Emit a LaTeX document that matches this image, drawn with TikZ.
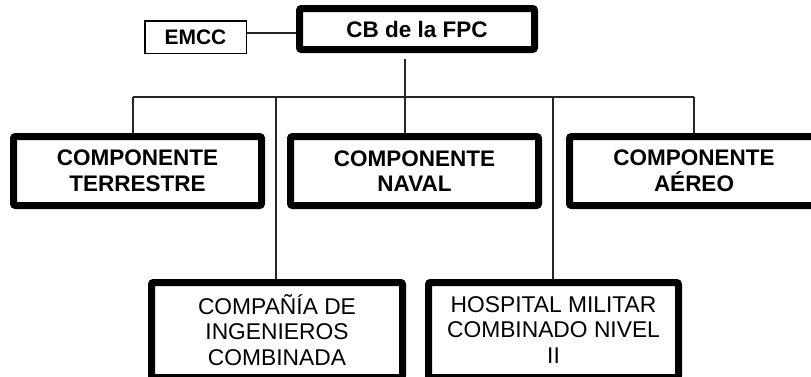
\documentclass[tikz,border=0pt]{standalone}
\usepackage{fontspec}
\setmainfont{Liberation Sans}
\begin{document}
\begin{tikzpicture}[x=1pt,y=-1pt,
  thickbox/.style={draw, line width=7pt, rounded corners=2pt, align=center, inner sep=0pt, fill=white},
  thinbox/.style={draw, line width=1.5pt, align=center, inner sep=0pt, fill=white},
  conn/.style={line width=1.4pt, draw=black!85},
  bigtxt/.style={font=\fontsize{22.5}{25.7}\selectfont\bfseries},
  regtxt/.style={font=\fontsize{22.8}{25.5}\selectfont}]
\useasboundingbox (0,0) rectangle (811,376);
\clip (0,0) rectangle (811,376);

\node[thinbox, minimum width=101.5pt, minimum height=32.5pt, font=\fontsize{21}{24}\selectfont\bfseries] (emcc) at (195.5,37) {EMCC};
\node[thickbox, bigtxt, minimum width=235pt, minimum height=41pt] (cb) at (417,29) {CB de la FPC};

\node[thickbox, bigtxt, minimum width=248pt, minimum height=69pt] (ter) at (137.5,171) {COMPONENTE\\TERRESTRE};
\node[thickbox, bigtxt, minimum width=248pt, minimum height=69pt] (nav) at (414.5,171) {COMPONENTE\\NAVAL};
\node[thickbox, bigtxt, minimum width=249pt, minimum height=69pt] (aer) at (694,171) {COMPONENTE\\AÉREO};

\node[thickbox, regtxt, minimum width=251pt, minimum height=95pt] (cia) at (277,330) {COMPAÑÍA DE\\INGENIEROS\\COMBINADA};
\node[thickbox, regtxt, minimum width=250pt, minimum height=95pt] (hos) at (553.5,330) {HOSPITAL MILITAR\\COMBINADO NIVEL\\II};

\coordinate (top) at (405,59);
\coordinate (j) at (405,97);
\coordinate (hl) at (133,97);
\coordinate (hr) at (694,97);
\coordinate (c1) at (276,97);
\coordinate (c2) at (553,97);

\draw[conn] ([yshift=4pt]emcc.east) -- ([yshift=4pt]emcc.east -| cb.west);
\draw[conn] (top) -- (j);
\draw[conn] (hl) -- (hr);
\draw[conn] (hl) -- (hl |- ter.north);
\draw[conn] (j) -- (j |- nav.north);
\draw[conn] (hr) -- (hr |- aer.north);
\draw[conn] (c1) -- (c1 |- cia.north);
\draw[conn] (c2) -- (c2 |- hos.north);
\end{tikzpicture}
\end{document}
